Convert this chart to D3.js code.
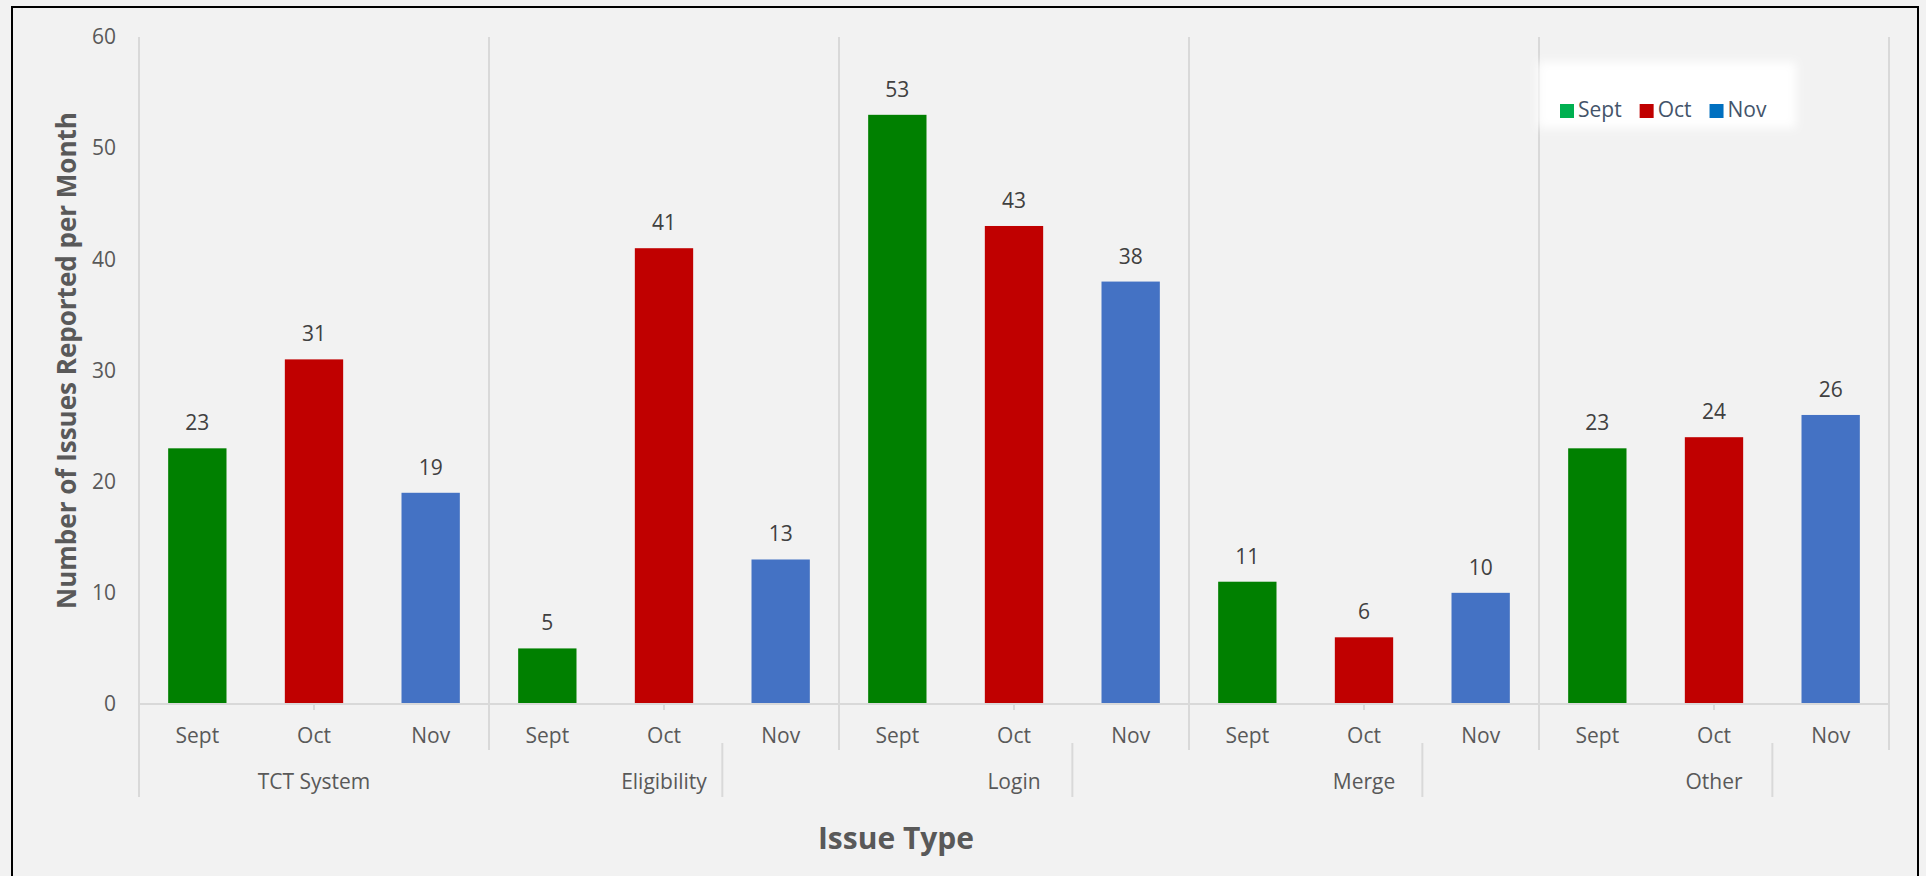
<!DOCTYPE html>
<html>
<head>
<meta charset="utf-8">
<script src="https://cdn.jsdelivr.net/npm/d3@7"></script>
<style>
  html, body { margin: 0; padding: 0; background: #f2f2f2; }
  svg { display: block; font-family: "Open Sans", sans-serif; }
</style>
</head>
<body>
<div id="chart"></div>
<script>
// data
var groups = ["TCT System", "Eligibility", "Login", "Merge", "Other"];
var months = ["Sept", "Oct", "Nov"];
var sept = [23, 5, 53, 11, 23];
var oct = [31, 41, 43, 6, 24];
var nov = [19, 13, 38, 10, 26];
var yTicks = [0, 10, 20, 30, 40, 50, 60];

var barColors = ["#008000", "#c00000", "#4472c4"];
var legendColors = ["#00b050", "#c00000", "#0070c0"];

var width = 1926, height = 876;
var margin = { top: 37, right: 37, bottom: 172, left: 139 };

var svg = d3.select("#chart").append("svg")
    .attr("width", width)
    .attr("height", height);

svg.append("rect")
    .attr("width", width).attr("height", height)
    .attr("fill", "#f2f2f2");

// chart border (bottom runs off the picture)
svg.append("rect")
    .attr("x", 12).attr("y", 7)
    .attr("width", 1906).attr("height", 900)
    .attr("fill", "#f2f2f2")
    .attr("stroke", "#000")
    .attr("stroke-width", 2);

var rows = [];
groups.forEach((g, i) => {
    [sept, oct, nov].forEach((s, j) => {
        rows.push({ group: g, month: months[j], value: s[i], m: j });
    });
});

var x0 = d3.scaleBand()
    .domain(groups)
    .range([margin.left, width - margin.right]);

var x1 = d3.scaleBand()
    .domain(months)
    .range([0, x0.bandwidth()])
    .paddingInner(0.5)
    .paddingOuter(0.25);

var y = d3.scaleLinear()
    .domain([0, 60])
    .range([height - margin.bottom, margin.top]);

var y0 = y(0);
var lineColor = "#d9d9d9";

// vertical separators between groups
var bounds = groups.map(g => x0(g)).concat([x0.range()[1]]);
svg.append("g")
    .selectAll("line")
    .data(bounds)
    .enter().append("line")
    .attr("x1", d => d).attr("x2", d => d)
    .attr("y1", margin.top)
    .attr("y2", (d, i) => i == 0 ? y0 + 93 : y0 + 46)
    .attr("stroke", lineColor)
    .attr("stroke-width", 2);

// second level separators (offset as in the source chart)
svg.append("g")
    .selectAll("line")
    .data(groups.slice(1))
    .enter().append("line")
    .attr("x1", d => x0(d) + x0.bandwidth() * 2 / 3)
    .attr("x2", d => x0(d) + x0.bandwidth() * 2 / 3)
    .attr("y1", y0 + 39)
    .attr("y2", y0 + 93)
    .attr("stroke", lineColor)
    .attr("stroke-width", 2);

// small ticks under middle category
svg.append("g")
    .selectAll("line")
    .data(groups)
    .enter().append("line")
    .attr("x1", d => x0(d) + x1("Oct") + x1.bandwidth() / 2)
    .attr("x2", d => x0(d) + x1("Oct") + x1.bandwidth() / 2)
    .attr("y1", y0)
    .attr("y2", y0 + 6)
    .attr("stroke", lineColor)
    .attr("stroke-width", 2);

// bars
svg.append("g")
    .selectAll("rect")
    .data(rows)
    .enter().append("rect")
    .attr("x", d => x0(d.group) + x1(d.month))
    .attr("y", d => y(d.value))
    .attr("width", x1.bandwidth())
    .attr("height", d => y0 - y(d.value))
    .attr("fill", d => barColors[d.m]);

// baseline
svg.append("line")
    .attr("x1", x0.range()[0]).attr("x2", x0.range()[1])
    .attr("y1", y0).attr("y2", y0)
    .attr("stroke", lineColor)
    .attr("stroke-width", 2);

// value labels
svg.append("g")
    .selectAll("text")
    .data(rows)
    .enter().append("text")
    .attr("x", d => x0(d.group) + x1(d.month) + x1.bandwidth() / 2)
    .attr("y", d => y(d.value) - 18)
    .attr("text-anchor", "middle")
    .style("font-size", "21px")
    .style("fill", "#404040")
    .text(d => d.value);

// y axis
var yAxis = g => g
    .attr("transform", `translate(${margin.left}, 0)`)
    .call(d3.axisLeft(y).tickValues(yTicks).tickSize(0).tickPadding(23))
    .call(g => g.select(".domain").remove())
    .call(g => g.selectAll("text")
        .style("font-size", "21px")
        .style("font-family", "Open Sans, sans-serif")
        .style("fill", "#595959"));
svg.append("g").call(yAxis);

// month labels
svg.append("g")
    .selectAll("text")
    .data(rows)
    .enter().append("text")
    .attr("x", d => x0(d.group) + x1(d.month) + x1.bandwidth() / 2)
    .attr("y", y0 + 39)
    .attr("text-anchor", "middle")
    .style("font-size", "21px")
    .style("fill", "#595959")
    .text(d => d.month);

// group labels
svg.append("g")
    .selectAll("text")
    .data(groups)
    .enter().append("text")
    .attr("x", d => x0(d) + x0.bandwidth() / 2)
    .attr("y", y0 + 85)
    .attr("text-anchor", "middle")
    .style("font-size", "21px")
    .style("fill", "#595959")
    .text(d => d);

// axis titles
svg.append("text")
    .attr("transform", `translate(66, ${(margin.top + y0) / 2 - 10}) rotate(-90)`)
    .attr("text-anchor", "middle")
    .attr("dominant-baseline", "central")
    .style("font-size", "26px")
    .style("font-weight", "bold")
    .style("fill", "#595959")
    .text("Number of Issues Reported per Month");

svg.append("text")
    .attr("x", 896)
    .attr("y", 849)
    .attr("text-anchor", "middle")
    .style("font-size", "30px")
    .style("font-weight", "bold")
    .style("fill", "#595959")
    .text("Issue Type");

// legend with soft white box
var defs = svg.append("defs");
defs.append("filter")
    .attr("id", "soft")
    .attr("x", "-20%").attr("y", "-40%")
    .attr("width", "140%").attr("height", "180%")
    .append("feGaussianBlur")
    .attr("stdDeviation", 5);

var legend = svg.append("g");
legend.append("rect")
    .attr("x", 1538).attr("y", 62)
    .attr("width", 258).attr("height", 66)
    .attr("fill", "#fff")
    .attr("filter", "url(#soft)");

var lx = 1560;
months.forEach((m, i) => {
    legend.append("rect")
        .attr("x", lx).attr("y", 104)
        .attr("width", 14).attr("height", 14)
        .attr("fill", legendColors[i]);
    var t = legend.append("text")
        .attr("x", lx + 18).attr("y", 117)
        .style("font-size", "21px")
        .style("fill", "#44546a")
        .text(m);
    lx += 18 + t.node().getComputedTextLength() + 18;
});
</script>
</body>
</html>
